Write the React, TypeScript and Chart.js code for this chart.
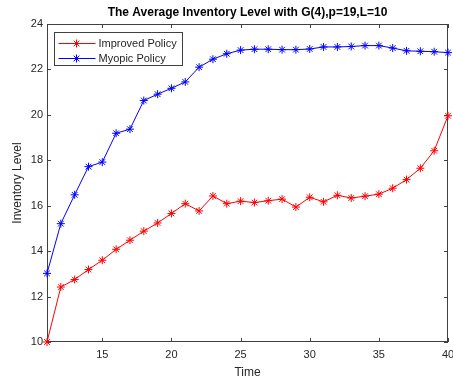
import React, { useEffect, useRef } from "react";
import { Chart, registerables } from "chart.js";

Chart.register(...registerables);

const TITLE = "The Average Inventory Level with G(4),p=19,L=10";
const X_LABEL = "Time";
const Y_LABEL = "Inventory Level";
const SERIES_NAMES = ["Improved Policy", "Myopic Policy"];
const SERIES_COLORS = ["#ff0000", "#0000ff"];

const timeSteps = [11, 12, 13, 14, 15, 16, 17, 18, 19, 20, 21, 22, 23, 24, 25, 26, 27, 28, 29, 30, 31, 32, 33, 34, 35, 36, 37, 38, 39, 40];
const improvedPolicy = [10.0, 12.42, 12.75, 13.19, 13.6, 14.08, 14.48, 14.88, 15.24, 15.66, 16.09, 15.77, 16.43, 16.09, 16.2, 16.14, 16.22, 16.29, 15.94, 16.37, 16.17, 16.46, 16.34, 16.42, 16.51, 16.77, 17.15, 17.65, 18.42, 19.96];
const myopicPolicy = [13.02, 15.21, 16.48, 17.72, 17.92, 19.19, 19.37, 20.63, 20.91, 21.17, 21.45, 22.1, 22.45, 22.69, 22.85, 22.89, 22.89, 22.87, 22.87, 22.9, 22.99, 22.99, 23.01, 23.05, 23.05, 22.94, 22.82, 22.8, 22.78, 22.74];
const xTicks = [15, 20, 25, 30, 35, 40];
const yTicks = [10, 12, 14, 16, 18, 20, 22, 24];

const FONT = 'Arial, "Liberation Sans", Helvetica, sans-serif';
const TEXT = "#262626";
const AXIS = "#404040";

function drawStar(ctx: CanvasRenderingContext2D, x: number, y: number, r: number, color: string) {
  ctx.save();
  ctx.strokeStyle = color;
  ctx.lineWidth = 1;
  ctx.beginPath();
  for (let i = 0; i < 4; i++) {
    const a = (i * Math.PI) / 4;
    ctx.moveTo(x - r * Math.cos(a), y - r * Math.sin(a));
    ctx.lineTo(x + r * Math.cos(a), y + r * Math.sin(a));
  }
  ctx.stroke();
  ctx.restore();
}

const matlabPlugin = {
  id: "matlabDecor",
  beforeDatasetsDraw(chart: any) {
    const { ctx, chartArea: a, scales } = chart;
    const xs = scales.x;
    const ys = scales.y;
    ctx.save();
    ctx.strokeStyle = AXIS;
    ctx.lineWidth = 1;
    ctx.strokeRect(Math.round(a.left) + 0.5, Math.round(a.top) + 0.5, Math.round(a.right - a.left) - 1, Math.round(a.bottom - a.top) - 1);
    const tl = 4;
    ctx.beginPath();
    xTicks.forEach((v) => {
      const px = Math.round(xs.getPixelForValue(v)) + 0.5;
      ctx.moveTo(px, a.bottom);
      ctx.lineTo(px, a.bottom - tl);
      ctx.moveTo(px, a.top);
      ctx.lineTo(px, a.top + tl);
    });
    yTicks.forEach((v) => {
      const py = Math.round(ys.getPixelForValue(v)) + 0.5;
      ctx.moveTo(a.left, py);
      ctx.lineTo(a.left + tl, py);
      ctx.moveTo(a.right, py);
      ctx.lineTo(a.right - tl, py);
    });
    ctx.stroke();
    ctx.restore();
  },
  afterDraw(chart: any) {
    const { ctx, chartArea: a } = chart;
    const cx = (a.left + a.right) / 2;
    ctx.save();
    ctx.fillStyle = "#000";
    ctx.font = `bold 12px ${FONT}`;
    ctx.textAlign = "center";
    ctx.textBaseline = "middle";
    ctx.fillText(TITLE, cx, 13);

    ctx.fillStyle = TEXT;
    ctx.font = `12px ${FONT}`;
    ctx.fillText(X_LABEL, cx, 373);
    ctx.save();
    ctx.translate(18, (a.top + a.bottom) / 2);
    ctx.rotate(-Math.PI / 2);
    ctx.fillText(Y_LABEL, 0, 0);
    ctx.restore();

    // legend
    const lx = a.left + 7.5;
    const ly = a.top + 8.5;
    const lw = 128;
    const lh = 33;
    ctx.fillStyle = "#fff";
    ctx.fillRect(lx, ly, lw, lh);
    ctx.strokeStyle = AXIS;
    ctx.lineWidth = 1;
    ctx.strokeRect(lx, ly, lw, lh);
    ctx.font = `11px ${FONT}`;
    ctx.textAlign = "left";
    SERIES_NAMES.forEach((name, i) => {
      const y = ly + 11 + i * 15;
      ctx.strokeStyle = SERIES_COLORS[i];
      ctx.beginPath();
      ctx.moveTo(lx + 4, y);
      ctx.lineTo(lx + 41, y);
      ctx.stroke();
      drawStar(ctx, lx + 22, y, 4, SERIES_COLORS[i]);
      ctx.fillStyle = TEXT;
      ctx.fillText(name, lx + 44, y + 0.5);
    });
    ctx.restore();
  },
};

export default function App() {
  const canvasRef = useRef<HTMLCanvasElement | null>(null);

  useEffect(() => {
    if (!canvasRef.current) return;
    Chart.defaults.font.family = FONT;
    const makeSet = (label: string, values: number[], color: string) => ({
      label,
      data: timeSteps.map((t, i) => ({ x: t, y: values[i] })),
      borderColor: color,
      backgroundColor: color,
      borderWidth: 1,
      pointStyle: "star" as const,
      pointRadius: 4,
      pointBorderWidth: 1,
      pointBorderColor: color,
      clip: false as any,
      tension: 0,
    });
    const chart = new Chart(canvasRef.current, {
      type: "line",
      data: {
        datasets: [
          makeSet(SERIES_NAMES[0], improvedPolicy, SERIES_COLORS[0]),
          makeSet(SERIES_NAMES[1], myopicPolicy, SERIES_COLORS[1]),
        ],
      },
      options: {
        animation: false,
        responsive: false,
        devicePixelRatio: 1,
        layout: { padding: { top: 24, right: 3, left: 0, bottom: 0 } },
        plugins: { legend: { display: false }, title: { display: false }, tooltip: { enabled: false } },
        scales: {
          x: {
            type: "linear",
            min: 11,
            max: 40,
            grid: { display: false, drawTicks: false },
            border: { display: false },
            ticks: { color: TEXT, font: { size: 11, family: FONT }, padding: 6, maxRotation: 0 },
            afterBuildTicks: (s: any) => {
              s.ticks = xTicks.map((v) => ({ value: v }));
            },
            afterFit: (s: any) => {
              s.height = 40;
              s.paddingLeft = 0;
              s.paddingRight = 0;
            },
          },
          y: {
            type: "linear",
            min: 10,
            max: 24,
            grid: { display: false, drawTicks: false },
            border: { display: false },
            ticks: { color: TEXT, font: { size: 11, family: FONT }, padding: 4 },
            afterBuildTicks: (s: any) => {
              s.ticks = yTicks.map((v) => ({ value: v }));
            },
            afterFit: (s: any) => {
              s.width = 47;
              s.paddingTop = 0;
              s.paddingBottom = 0;
            },
          },
        },
      },
      plugins: [matlabPlugin],
    });
    return () => chart.destroy();
  }, []);

  return (
    <div style={{ position: "absolute", left: 0, top: 0, width: 453, height: 382, background: "#fff" }}>
      <canvas ref={canvasRef} width={453} height={382} style={{ display: "block" }} />
    </div>
  );
}
